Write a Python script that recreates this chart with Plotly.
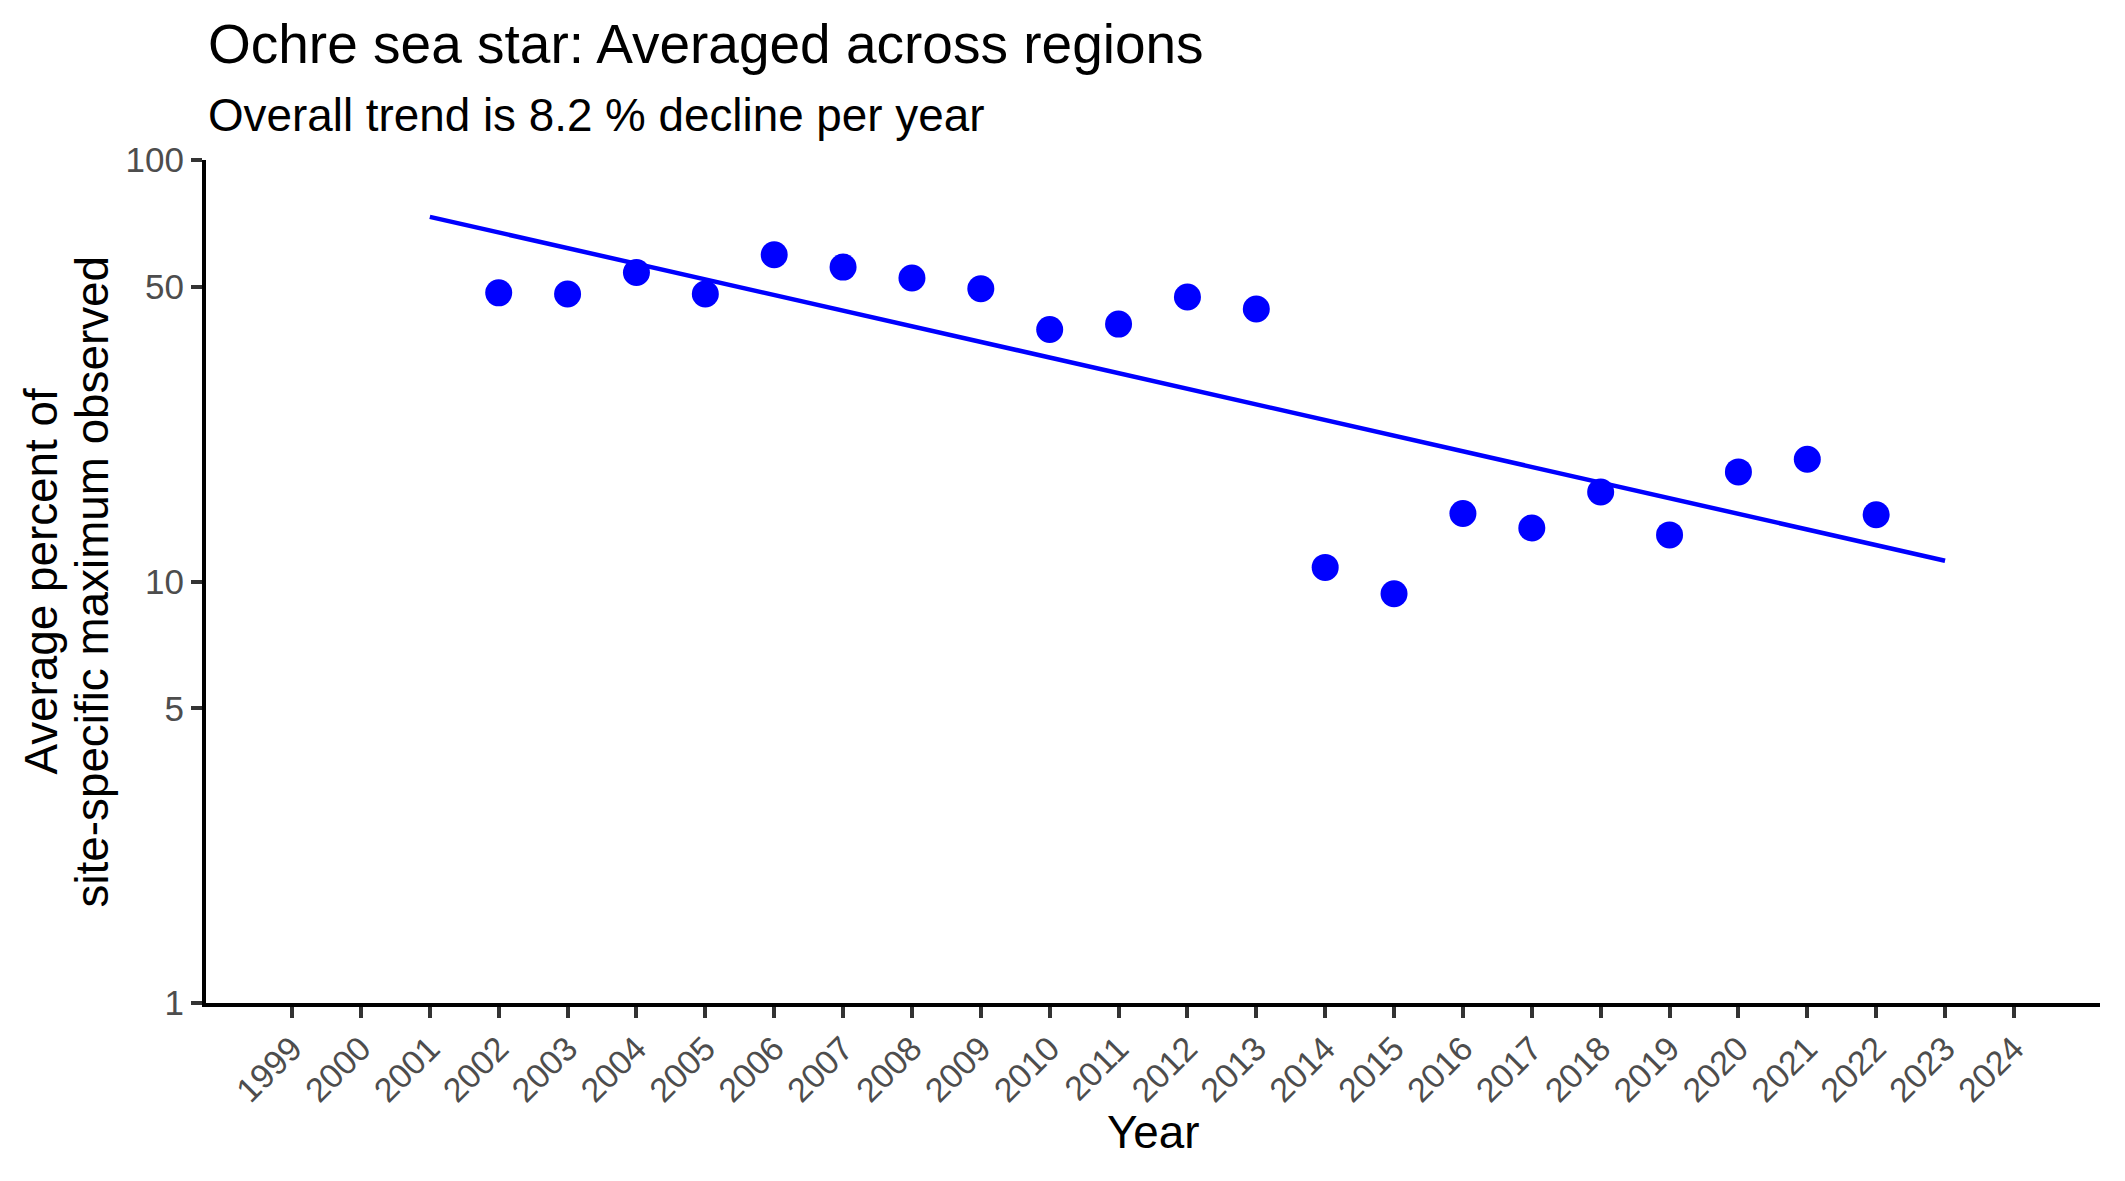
import plotly.graph_objects as go

years = [2002, 2003, 2004, 2005, 2006, 2007, 2008, 2009, 2010, 2011, 2012,
         2013, 2014, 2015, 2016, 2017, 2018, 2019, 2020, 2021, 2022]
avg_percent = [48.4, 48.1, 54.1, 48.1, 59.6, 55.7, 52.5, 49.5, 39.6, 40.8, 47.3,
               44.3, 10.8, 9.35, 14.5, 13.4, 16.3, 12.9, 18.2, 19.5, 14.4]
trend_years = [2001, 2023]
trend_values = [73.3, 11.2]
x_tick_years = list(range(1999, 2025))
y_tick_values = [1, 5, 10, 50, 100]

FONT = "Liberation Sans, Arial, sans-serif"
W, H = 2125, 1181
L, R, T, B = 206, 25, 160, 178
pw, ph = W - L - R, H - T - B

def px_to_paper_x(px):
    return (px - L) / pw

def px_to_paper_y(py):
    return (H - B - py) / ph

fig = go.Figure()
fig.add_trace(go.Scatter(x=trend_years, y=trend_values, mode="lines",
                         line=dict(color="#0000FF", width=4.5), showlegend=False))
fig.add_trace(go.Scatter(x=years, y=avg_percent, mode="markers",
                         marker=dict(color="#0000FF", size=27, line=dict(width=0)),
                         showlegend=False))

fig.update_layout(
    width=W, height=H,
    margin=dict(l=L, r=R, t=T, b=B),
    paper_bgcolor="white", plot_bgcolor="white",
    font=dict(family=FONT),
    xaxis=dict(range=[1997.75, 2025.25], tickmode="array", tickvals=x_tick_years,
               ticktext=[str(y) for y in x_tick_years], tickangle=-45,
               showgrid=False, zeroline=False, showline=True, linecolor="black",
               linewidth=4, ticks="outside", ticklen=11, tickwidth=3.5,
               ticklabelstandoff=-3,
               tickcolor="#333333", tickfont=dict(size=34, color="#4D4D4D", family=FONT)),
    yaxis=dict(type="log", range=[0, 2], tickmode="array", tickvals=y_tick_values,
               ticktext=[str(v) for v in y_tick_values],
               showgrid=False, zeroline=False, showline=True, linecolor="black",
               linewidth=4, ticks="outside", ticklen=11, tickwidth=3.5,
               tickcolor="#333333", tickfont=dict(size=35, color="#4D4D4D", family=FONT)),
)

annotations = [
    dict(text="Ochre sea star: Averaged across regions", x=0, y=px_to_paper_y(44),
         xanchor="left", yanchor="middle", font=dict(size=55, color="black", family=FONT)),
    dict(text="Overall trend is 8.2 % decline per year", x=0, y=px_to_paper_y(115),
         xanchor="left", yanchor="middle", font=dict(size=45.8, color="black", family=FONT)),
    dict(text="Year", x=0.5, y=px_to_paper_y(1132), xanchor="center", yanchor="middle",
         font=dict(size=45.8, color="black", family=FONT)),
    dict(text="Average percent of", x=px_to_paper_x(41), y=0.5, textangle=-90,
         xanchor="center", yanchor="middle", font=dict(size=45.8, color="black", family=FONT)),
    dict(text="site-specific maximum observed", x=px_to_paper_x(92), y=0.5, textangle=-90,
         xanchor="center", yanchor="middle", font=dict(size=45.8, color="black", family=FONT)),
]
for a in annotations:
    a.update(xref="paper", yref="paper", showarrow=False)
fig.update_layout(annotations=annotations)

fig.write_html("out.html")
